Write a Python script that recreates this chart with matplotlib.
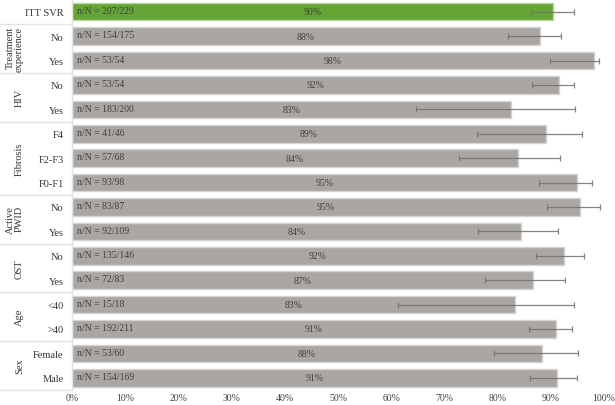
import matplotlib
matplotlib.use("Agg")
import matplotlib.pyplot as plt
from matplotlib.ticker import PercentFormatter

plt.rcParams['font.family'] = ['Liberation Serif', 'DejaVu Serif']

# rows from top to bottom
labels = ['ITT SVR', 'No', 'Yes', 'No', 'Yes', 'F4', 'F2-F3', 'F0-F1',
          'No', 'Yes', 'No', 'Yes', '<40', '>40', 'Female', 'Male']
nN = ['207/229', '154/175', '53/54', '53/54', '183/200', '41/46', '57/68', '93/98',
      '83/87', '92/109', '135/146', '72/83', '15/18', '192/211', '53/60', '154/169']
svr = [90.4, 88.0, 98.1, 91.5, 82.6, 89.1, 83.8, 94.9,
       95.4, 84.4, 92.5, 86.7, 83.3, 91.0, 88.3, 91.1]
pct_text = ['90%', '88%', '98%', '92%', '83%', '89%', '84%', '95%',
            '95%', '84%', '92%', '87%', '83%', '91%', '88%', '91%']
ci_low = [86.3, 81.9, 89.9, 86.4, 64.7, 76.1, 72.8, 87.8,
          89.3, 76.3, 87.3, 77.7, 61.3, 85.9, 79.3, 86.0]
ci_high = [94.3, 91.9, 99.1, 94.4, 94.6, 95.9, 91.8, 97.8,
           99.3, 91.3, 96.3, 92.6, 94.3, 93.9, 95.2, 95.0]
# groups: (name, first row, last row)
groups = [('Treatment\nexperience', 1, 2), ('HIV', 3, 4), ('Fibrosis', 5, 7),
          ('Active\nPWID', 8, 9), ('OST', 10, 11), ('Age', 12, 13), ('Sex', 14, 15)]

fig = plt.figure(figsize=(6.15, 4.06), dpi=100)
ax = fig.add_axes([72 / 615, 1 - 391 / 406, 532 / 615, 390.5 / 406])

y = list(range(len(labels)))
colors = ['#64a535'] + ['#aaa6a3'] * (len(labels) - 1)
edges = ['#b8d6a0'] + ['#d6d3d1'] * (len(labels) - 1)
ax.barh(y, svr, height=0.72, color=colors, edgecolor=edges, linewidth=1.0, zorder=2)

err = [[v - lo for v, lo in zip(svr, ci_low)], [hi - v for v, hi in zip(svr, ci_high)]]
ax.errorbar(svr, y, xerr=err, fmt='none', ecolor='#707070', elinewidth=0.9,
            capsize=2, capthick=0.9, alpha=0.85, zorder=3)

for i in y:
    ax.text(1.0, i - 0.05, 'n/N = ' + nN[i], va='center', ha='left', fontsize=7, color='#404040', zorder=4)
    ax.text(svr[i] / 2, i, pct_text[i], va='center', ha='center', fontsize=7, color='#404040', zorder=4)

ax.set_ylim(len(labels) - 0.5, -0.5)
ax.set_xlim(0, 100)
ax.set_xticks(range(0, 101, 10))
ax.xaxis.set_major_formatter(PercentFormatter(decimals=0))
ax.set_yticks(y)
ax.set_yticklabels(labels)
ax.tick_params(axis='y', length=0, pad=6, labelsize=7.5, labelcolor='#333333')
ax.tick_params(axis='x', length=0, pad=2.5, labelsize=7, labelcolor='#404040')
for s in ['top', 'right', 'bottom']:
    ax.spines[s].set_visible(False)
ax.spines['left'].set_color('#e3e3e3')
ax.spines['left'].set_linewidth(1.0)

# separators and group labels in the left margin
x0 = -72 / 532 * 100
for name, a, b in groups:
    ax.plot([x0, 0], [a - 0.5, a - 0.5], color='#e3e3e3', lw=1.0, clip_on=False)
    ax.text(x0 + 24 / 532 * 100, (a + b) / 2, name, rotation=90, ha='right', va='center',
            fontsize=7.5, color='#333333', linespacing=1.0, clip_on=False)
ax.plot([x0, 0], [len(labels) - 0.5, len(labels) - 0.5], color='#e3e3e3', lw=1.0, clip_on=False)

fig.savefig('out.png', dpi=100)
